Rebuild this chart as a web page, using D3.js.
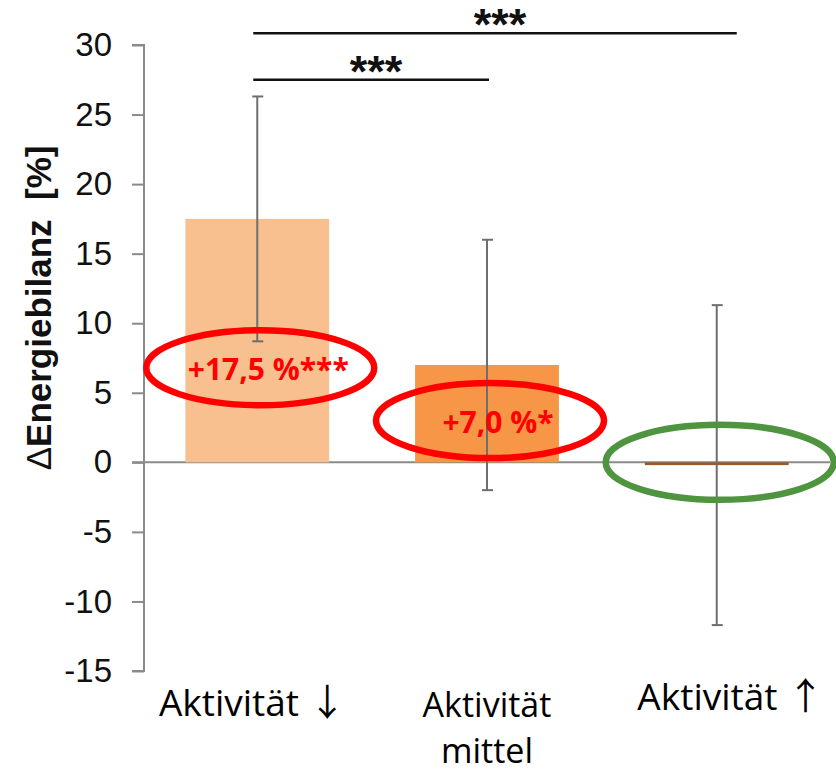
<!DOCTYPE html>
<html>
<head>
<meta charset="utf-8">
<script src="https://cdn.jsdelivr.net/npm/d3@7"></script>
<style>
  html, body { margin: 0; padding: 0; background: #fff; }
  svg { display: block; }
</style>
</head>
<body>
<svg id="chart" width="836" height="774"></svg>
<script>
// Activity groups and change in energy balance (mean ± SD, %)
const categories = ["Aktivität ↓", "Aktivität\nmittel", "Aktivität ↑"];
const meanChange = [17.5, 7.0, -0.2];
const sdChange = [8.8, 9.0, 11.5];
const significance = ["***", "*", ""];
const barColors = ["#f9c08f", "#f79646", "#9c5a28"];

// Highlight rings: value at the ring centre and ring colour per group
const ringCenters = [6.8, 3.0, 0];
const ringColors = ["#ff0000", "#ff0000", "#4f953f"];

// Pairwise comparisons drawn as brackets above the bars
const comparisons = [
  { from: 0, to: 1, level: 27.5, stars: "***" },
  { from: 0, to: 2, level: 30.85, stars: "***" }
];

const yTicks = [-15, -10, -5, 0, 5, 10, 15, 20, 25, 30];

const svg = d3.select("#chart");

const y = d3.scaleLinear().domain([-15, 30]).range([671, 45]);
const x = d3.scaleBand()
  .domain(d3.range(categories.length))
  .range([144, 830])
  .paddingInner(0.374)
  .paddingOuter(0.18);
const cx = i => x(i) + x.bandwidth() / 2;

const axisGray = "#8a8a8a";

// Y axis
const yAxis = d3.axisLeft(y).tickValues(yTicks).tickSize(12).tickPadding(20)
  .tickFormat(d3.format("d"));
const gy = svg.append("g").attr("transform", "translate(144,0)").call(yAxis);
gy.select(".domain").attr("stroke", axisGray).attr("stroke-width", 2)
  .attr("d", `M-12,${y(30)}H0V${y(-15)}H-12`);
gy.selectAll(".tick line").attr("stroke", axisGray).attr("stroke-width", 2);
gy.selectAll(".tick text")
  .attr("fill", "#111")
  .style("font-family", "'Liberation Sans', Arial, sans-serif")
  .style("font-size", "33px")
  .text(d => d < 0 ? "-" + Math.abs(d) : d);

// Y axis title (delta sign in regular weight)
const yTitle = svg.append("text")
  .attr("transform", `translate(51,${y(11.1)}) rotate(-90)`)
  .attr("text-anchor", "middle")
  .style("font-family", "'Liberation Sans', Arial, sans-serif")
  .style("font-weight", "bold")
  .style("font-size", "35px")
  .attr("fill", "#111")
  .attr("xml:space", "preserve");
yTitle.append("tspan").style("font-weight", "normal").text("Δ");
yTitle.append("tspan").text("Energiebilanz  [%]");

// Zero line
svg.append("line")
  .attr("x1", 132).attr("x2", 830)
  .attr("y1", y(0)).attr("y2", y(0))
  .attr("stroke", axisGray).attr("stroke-width", 2);

// Bars
svg.append("g").selectAll("rect")
  .data(meanChange)
  .join("rect")
  .attr("x", (d, i) => x(i))
  .attr("width", x.bandwidth())
  .attr("y", d => y(Math.max(0, d)))
  .attr("height", d => Math.abs(y(d) - y(0)))
  .attr("fill", (d, i) => barColors[i]);

// Error bars
const err = svg.append("g").attr("stroke", "#6e6e6e").attr("stroke-width", 2);
meanChange.forEach((m, i) => {
  const hi = y(m + sdChange[i]), lo = y(m - sdChange[i]);
  err.append("line").attr("x1", cx(i)).attr("x2", cx(i)).attr("y1", hi).attr("y2", lo);
  err.append("line").attr("x1", cx(i) - 5).attr("x2", cx(i) + 6).attr("y1", hi).attr("y2", hi);
  err.append("line").attr("x1", cx(i) - 5).attr("x2", cx(i) + 6).attr("y1", lo).attr("y2", lo);
});

// Highlight rings
svg.append("g").selectAll("ellipse")
  .data(ringCenters)
  .join("ellipse")
  .attr("cx", (d, i) => cx(i) + 3)
  .attr("cy", d => y(d))
  .attr("rx", 114)
  .attr("ry", 37.5)
  .attr("fill", "none")
  .attr("stroke", (d, i) => ringColors[i])
  .attr("stroke-width", 6.5);

// Value labels inside the rings
svg.append("g").selectAll("text")
  .data(meanChange.slice(0, 2))
  .join("text")
  .attr("x", (d, i) => cx(i) + 11)
  .attr("y", (d, i) => y(ringCenters[i]) + 12)
  .attr("text-anchor", "middle")
  .style("font-family", "'Open Sans', sans-serif")
  .style("font-weight", "bold")
  .style("font-size", "30px")
  .attr("fill", "#ff0000")
  .text((d, i) => (d > 0 ? "+" : "") + d3.format(".1f")(d).replace(".", ",") + " %" + significance[i]);

// Comparison brackets
const bracketReach = [2, 20];
comparisons.forEach((c, k) => {
  const x1 = cx(c.from) - 4, x2 = cx(c.to) + bracketReach[k];
  svg.append("line")
    .attr("x1", x1).attr("x2", x2)
    .attr("y1", y(c.level)).attr("y2", y(c.level))
    .attr("stroke", "#111").attr("stroke-width", 2.5);
  svg.append("text")
    .attr("x", (x1 + x2) / 2 + 5)
    .attr("y", y(c.level) + 7)
    .attr("text-anchor", "middle")
    .style("font-family", "'Liberation Sans', Arial, sans-serif")
    .style("font-weight", "bold")
    .style("font-size", "45px")
    .attr("fill", "#111")
    .text(c.stars);
});

// Category labels (arrows set in a font with full-size arrow glyphs)
const labelShift = [-5, 0, 14];
const lineBase = [716, 717, 710];
const catG = svg.append("g")
  .style("font-family", "'Open Sans', sans-serif")
  .attr("fill", "#000");
categories.forEach((c, i) => {
  const lines = c.split("\n");
  const t = catG.append("text")
    .attr("y", lineBase[i])
    .attr("text-anchor", "middle")
    .style("font-size", lines.length > 1 ? "34px" : "37px");
  lines.forEach((l, j) => {
    const ts = t.append("tspan")
      .attr("x", cx(i) + labelShift[i])
      .attr("dy", j ? 46 : 0);
    const m = l.match(/^(.*?)([↓↑])$/);
    if (m) {
      ts.append("tspan").text(m[1]);
      ts.append("tspan").style("font-family", "'Noto Sans CJK JP', 'DejaVu Sans', sans-serif")
        .text(m[2]);
    } else {
      ts.text(l);
    }
  });
});
</script>
</body>
</html>
